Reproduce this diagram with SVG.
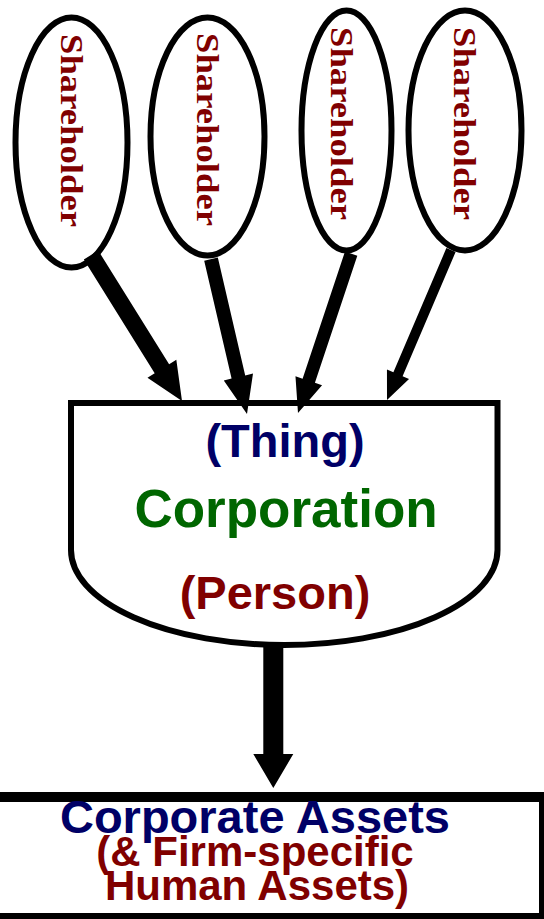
<svg xmlns="http://www.w3.org/2000/svg" width="544" height="919" viewBox="0 0 544 919">
  <style>
    .oval { fill: #ffffff; stroke: #000000; stroke-width: 6; }
    .holder { font-family: "Liberation Serif", "Times New Roman", serif; font-weight: bold; font-size: 31px; fill: #800000; }
    .sans { font-family: "Liberation Sans", Arial, sans-serif; font-weight: bold; text-anchor: middle; }
    .navy { fill: #000066; }
    .green { fill: #006600; }
    .maroon { fill: #800000; }
    .arrow { fill: #000000; }
    .frame { fill: #ffffff; stroke: #000000; }
  </style>

  <!-- shareholders -->
  <g id="shareholder-1">
    <ellipse class="oval" cx="71.5" cy="142.5" rx="56" ry="125"/>
    <text class="holder" transform="translate(61,34) rotate(90)" textLength="193" lengthAdjust="spacingAndGlyphs">Shareholder</text>
  </g>
  <g id="shareholder-2">
    <ellipse class="oval" cx="207.5" cy="136.5" rx="57" ry="119"/>
    <text class="holder" transform="translate(197,33) rotate(90)" textLength="193" lengthAdjust="spacingAndGlyphs">Shareholder</text>
  </g>
  <g id="shareholder-3">
    <ellipse class="oval" cx="346.5" cy="130.5" rx="45" ry="120"/>
    <text class="holder" transform="translate(331,27) rotate(90)" textLength="193" lengthAdjust="spacingAndGlyphs">Shareholder</text>
  </g>
  <g id="shareholder-4">
    <ellipse class="oval" cx="465" cy="130.5" rx="56.5" ry="120"/>
    <text class="holder" transform="translate(454,27) rotate(90)" textLength="193" lengthAdjust="spacingAndGlyphs">Shareholder</text>
  </g>

  <!-- corporation vessel -->
  <g id="corporation">
    <path class="frame" stroke-width="6" d="M71,403 H497.5 V550 A213.25,95 0 0 1 71,550 Z"/>
    <text class="sans navy" x="285" y="457" font-size="47">(Thing)</text>
    <text class="sans green" x="286" y="527" font-size="53">Corporation</text>
    <text class="sans maroon" x="275" y="609" font-size="47">(Person)</text>
  </g>

  <!-- assets box -->
  <g id="assets">
    <rect class="frame" stroke-width="10" x="-10" y="797" width="554" height="121"/>
    <text class="sans navy" x="255" y="833" font-size="47">Corporate Assets</text>
    <text class="sans maroon" x="255" y="866" font-size="42">(&amp; Firm-specific</text>
    <text class="sans maroon" x="257" y="900" font-size="42">Human Assets)</text>
  </g>

  <!-- connectors: tip at local origin, pointing along +x -->
  <g id="connectors">
    <polygon class="arrow" transform="translate(182,401) rotate(58.07)" points="0,0 -38,-17 -38,-8.5 -172,-8.5 -172,8.5 -38,8.5 -38,17"/>
    <polygon class="arrow" transform="translate(247,414) rotate(76.92)" points="0,0 -38,-15 -38,-7 -159,-7 -159,7 -38,7 -38,15"/>
    <polygon class="arrow" transform="translate(298,413) rotate(108.44)" points="0,0 -34,-14 -34,-6.5 -168,-6.5 -168,6.5 -34,6.5 -34,14"/>
    <polygon class="arrow" transform="translate(387,400) rotate(113.11)" points="0,0 -28,-12 -28,-5 -163,-5 -163,5 -28,5 -28,12"/>
    <polygon class="arrow" points="263.3,645 283.3,645 283.3,754 293.3,754 273.3,788 253.3,754 263.3,754"/>
  </g>
</svg>
